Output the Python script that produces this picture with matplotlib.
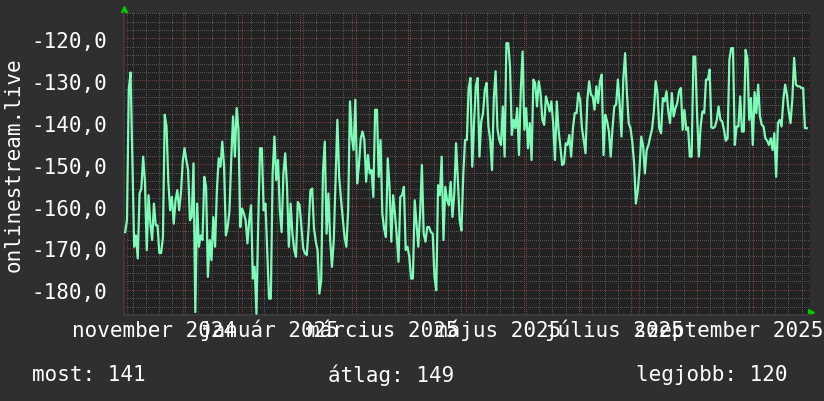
import matplotlib
matplotlib.use("Agg")
import matplotlib.pyplot as plt
import matplotlib.dates as mdates
from matplotlib.colors import to_rgba
from matplotlib.ticker import MultipleLocator, FuncFormatter
import numpy as np
import pandas as pd

# jelszint (dBm-szeru ertekek), kb. napi mintak, 6 szakaszban
szakasz1 = [-166.1, -163.3, -132.1, -128.0, -148.9, -169.6, -166.9, -172.4, -156.9, -155.7,
            -148.1, -154.1, -170.4, -157.3, -164.1, -168.0, -159.3, -164.5, -164.5, -171.1,
            -171.1, -167.3, -138.1, -140.9, -154.1, -160.9, -157.7, -164.1, -158.5, -156.1,
            -160.9, -156.9, -149.3, -146.1, -148.9, -151.3, -163.3, -162.5, -149.7, -185.2,
            -159.3, -169.6, -166.9, -168.0, -152.9, -155.3, -176.8, -168.0, -172.8, -162.5,
            -169.6, -156.1, -148.5, -150.5, -144.5, -150.5, -166.9, -164.9, -160.9, -148.5, -138.5]
szakasz2 = [-148.1, -136.5, -141.7, -164.9, -160.5, -161.7, -163.3, -168.8, -163.3, -159.7,
            -177.2, -174.4, -185.6, -163.7, -146.1, -146.1, -160.9, -159.3, -170.4, -182.0,
            -182.0, -152.1, -143.3, -153.7, -148.9, -160.9, -166.1, -152.1, -147.3, -155.3,
            -169.6, -159.3, -166.5, -170.4, -172.0, -158.9, -159.7, -164.9, -170.0, -171.2,
            -171.6, -165.3, -156.1, -155.7, -165.3, -168.4, -170.4, -180.8, -177.6, -151.7,
            -144.5, -166.5, -156.9, -168.0, -174.4, -168.0, -153.7, -139.3, -152.9, -158.1,
            -162.9, -167.3]
szakasz3 = [-169.6, -160.9, -134.9, -143.3, -146.5, -134.5, -154.5, -150.1, -143.7, -142.1,
            -144.1, -154.1, -147.7, -152.1, -151.3, -157.7, -136.9, -136.9, -152.9, -144.1,
            -161.7, -165.3, -167.3, -148.5, -155.3, -168.4, -157.3, -161.7, -166.9, -173.2,
            -157.7, -157.3, -155.3, -170.4, -169.6, -172.0, -177.2, -177.2, -158.5, -164.1,
            -169.6, -161.7, -150.1, -166.5, -168.4, -164.9, -164.9, -166.1, -166.5, -176.8,
            -180.0, -154.9, -157.3, -148.1, -168.0, -155.3, -158.5, -159.7, -154.1, -162.5,
            -156.9, -144.9, -153.7, -163.3]
szakasz4 = [-165.7, -152.5, -144.1, -144.1, -131.7, -129.3, -150.5, -140.1, -131.3, -129.3,
            -148.1, -139.7, -137.7, -132.1, -130.5, -140.9, -144.1, -151.3, -134.1, -127.7,
            -141.3, -144.1, -145.3, -136.1, -148.1, -121.0, -121.0, -126.5, -142.9, -139.3,
            -141.3, -136.5, -147.7, -132.1, -123.0, -141.7, -136.5, -146.1, -140.1, -148.9,
            -129.7, -130.5, -136.1, -130.1, -132.9, -139.3, -140.5, -133.7, -135.3, -137.3,
            -134.9, -140.1, -148.9, -134.9, -141.7, -145.7, -150.1, -149.7, -144.9, -145.3,
            -142.9, -148.1, -141.3, -137.7]
szakasz5 = [-137.7, -132.9, -134.5, -141.3, -144.1, -147.3, -134.5, -130.1, -133.3, -133.7,
            -136.9, -131.3, -135.3, -130.1, -128.5, -147.7, -138.1, -139.7, -142.1, -148.1,
            -141.3, -136.1, -135.7, -129.7, -135.7, -143.3, -129.7, -123.4, -132.9, -140.1,
            -141.3, -144.5, -149.7, -159.3, -156.3, -151.3, -143.3, -145.5, -152.1, -146.5,
            -145.3, -143.3, -141.5, -137.3, -130.1, -132.9, -141.3, -142.5, -134.1, -134.9,
            -132.5, -137.3, -140.1, -132.9, -138.5, -136.5, -135.3, -132.5, -131.7, -141.7,
            -136.9, -141.7, -141.1, -148.1]
szakasz6 = [-148.1, -124.2, -124.2, -137.7, -148.1, -140.9, -137.3, -137.7, -129.7, -129.7,
            -127.3, -141.1, -141.3, -140.9, -139.3, -136.1, -139.3, -139.7, -141.7, -144.3,
            -143.7, -124.9, -122.2, -122.2, -145.3, -140.9, -140.9, -133.7, -142.1, -142.1,
            -122.6, -124.7, -139.3, -134.1, -145.3, -132.7, -137.7, -130.9, -138.5, -140.5,
            -140.9, -143.7, -144.3, -145.3, -143.7, -146.5, -142.5, -152.9, -140.1, -139.3,
            -140.9, -134.5, -130.9, -133.3, -137.3, -140.1, -134.3, -124.5, -130.9, -131.3,
            -131.3, -131.7, -131.7, -141.3, -141.3]

kezdet = "2024-10-30 15:00"
veg = "2025-10-29 12:00"

honap_cimkek = ["november 2024", "január 2025", "március 2025",
                "május 2025", "július 2025", "szeptember 2025"]
cimke_datumok = ["2024-11-15 00:00", "2025-01-15 12:00", "2025-03-17 00:00",
                 "2025-05-17 12:00", "2025-07-19 00:00", "2025-09-18 00:00"]

also_szovegek = ["most: 141", "átlag: 149", "legjobb: 120"]

FONT = "DejaVu Sans Mono"
HATTER = "#2f2f2f"
RAJZ = "#222222"
VONAL = "#7dfcb8"
PIROS = "#7c3a3a"
SZURKE = "#555555"

ertekek = szakasz1 + szakasz2 + szakasz3 + szakasz4 + szakasz5 + szakasz6
idok = pd.date_range(kezdet, veg, periods=len(ertekek))

# tengely pixelben (824x402 kep)
BAL, ALJ, SZ, MA = 124, 86, 686, 302

fig = plt.figure(figsize=(8.24, 4.02), dpi=100, facecolor=HATTER)
ax = fig.add_axes([BAL / 824, ALJ / 402, SZ / 824, MA / 402])
ax.set_facecolor(RAJZ)

xmin, xmax = pd.Timestamp("2024-10-30 00:00"), pd.Timestamp("2025-10-31 06:00")
ymin, ymax = -185.9, -113.8
ax.set_xlim(xmin, xmax)
ax.set_ylim(ymin, ymax)

# pontozott racs kepkent, hogy a pontok pixelre essenek
racs = np.zeros((MA, SZ, 4))
tr = ax.transData
x0num = mdates.date2num(xmin)


def sor(v):
    yd = tr.transform((x0num, v))[1]
    return int(np.clip(np.floor(ALJ + MA - yd), 0, MA - 1))


def oszlop(d):
    xd = tr.transform((mdates.date2num(d), ymin))[0]
    return int(np.clip(np.floor(xd - BAL), 0, SZ - 1))


szurke, piros = to_rgba(SZURKE), to_rgba(PIROS)
for v in range(-184, -113, 2):
    if v % 10:
        racs[sor(v), 0::2] = szurke
for d in pd.date_range("2024-11-04", "2025-10-31", freq="7D"):
    racs[0::2, oszlop(d)] = szurke
for v in range(-180, -113, 10):
    racs[sor(v), 0::2] = piros
for d in pd.date_range("2024-11-01", "2025-10-31", freq="MS"):
    racs[0::2, oszlop(d)] = piros

ax.imshow(racs, extent=(0, 1, 0, 1), transform=ax.transAxes, interpolation="nearest",
          aspect="auto", zorder=1)
ax.set_xlim(xmin, xmax)
ax.set_ylim(ymin, ymax)

ax.plot(idok, ertekek, color=VONAL, linewidth=1.6, zorder=3)

ax.yaxis.set_major_locator(MultipleLocator(10))
ax.yaxis.set_major_formatter(FuncFormatter(lambda v, p: f"{v:.1f}".replace(".", ",")))
ax.set_xticks(pd.to_datetime(cimke_datumok))
ax.set_xticklabels(honap_cimkek, va="baseline")
ax.tick_params(axis="both", which="both", length=0, colors="white")
ax.tick_params(axis="y", pad=12)
ax.tick_params(axis="x", pad=15)
for lab in ax.get_xticklabels() + ax.get_yticklabels():
    lab.set_fontfamily(FONT)
    lab.set_fontsize(15)
    lab.set_color("white")

for s in ["top", "right"]:
    ax.spines[s].set_visible(False)
for s in ["left", "bottom"]:
    ax.spines[s].set_color("#3a3a3a")
    ax.spines[s].set_linewidth(1.5)

# zold nyilak
ax.plot([0], [1.013], marker="^", color="#00c800", markersize=5, transform=ax.transAxes, clip_on=False)
ax.plot([1.002], [0.01], marker=">", color="#00c800", markersize=5, transform=ax.transAxes, clip_on=False)

fig.text(14 / 824, 1 - 165 / 402, "onlinestream.live", rotation=90, ha="center", va="center",
         color="white", fontsize=15, fontfamily=FONT)

for szoveg, xp in zip(also_szovegek, [32, 328, 636]):
    fig.text(xp / 824, 1 - 375 / 402, szoveg, ha="left", va="center",
             color="white", fontsize=15, fontfamily=FONT)

fig.savefig("out.png", dpi=100, facecolor=HATTER)
